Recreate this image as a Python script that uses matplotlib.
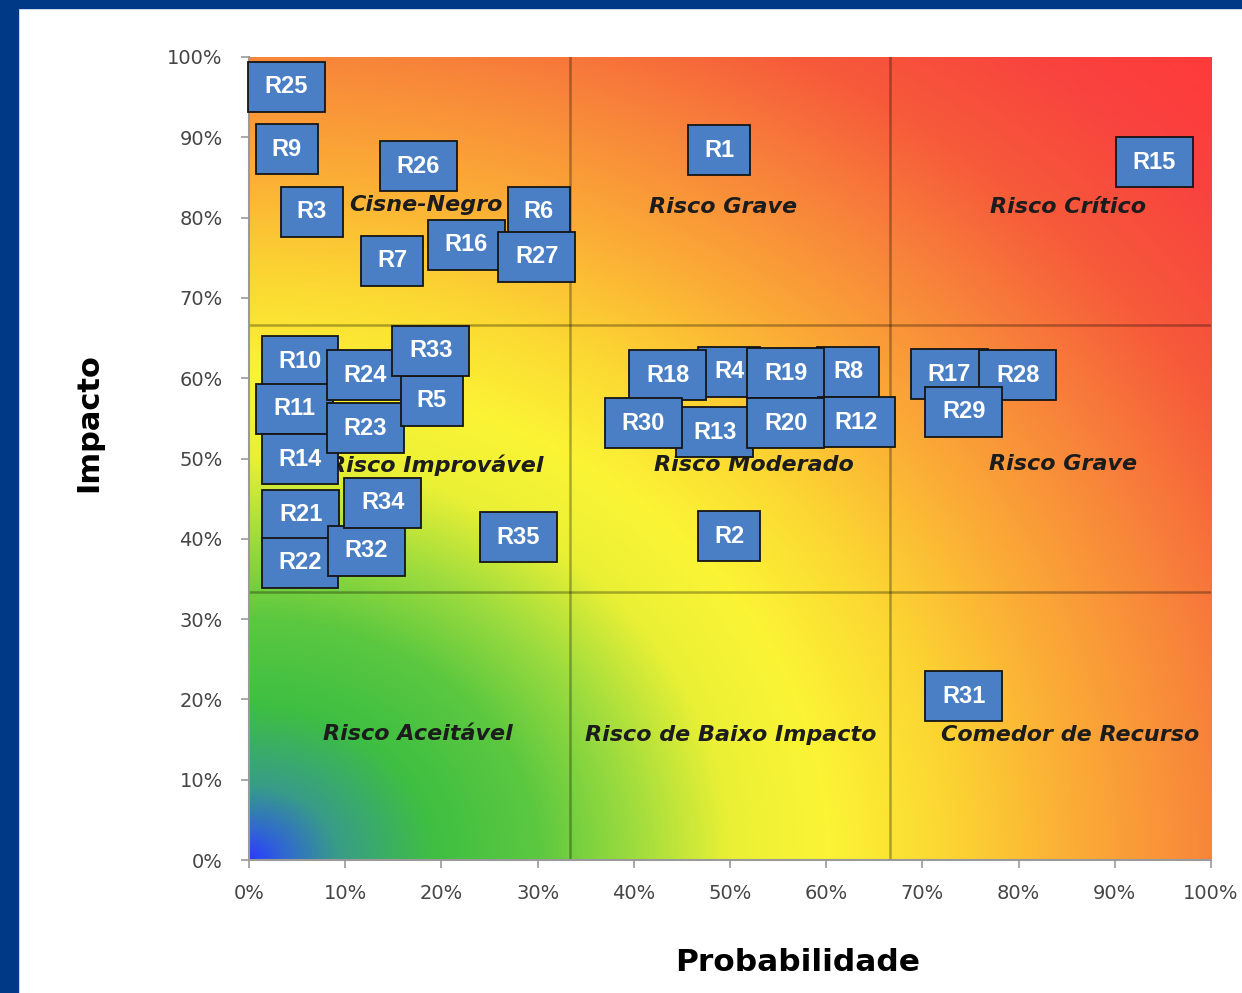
import numpy as np
import matplotlib
matplotlib.use("Agg")
import matplotlib.pyplot as plt
from matplotlib.colors import LinearSegmentedColormap
from matplotlib.patches import Rectangle

# risks: label, probability (%), impact (%) -- listed in drawing order
risk_names = ["R25", "R9", "R3", "R26", "R6", "R7", "R16", "R27", "R1", "R15",
              "R10", "R11", "R14", "R24", "R23", "R5", "R33", "R21", "R22",
              "R32", "R34", "R35", "R4", "R18", "R8", "R19", "R13", "R30",
              "R12", "R20", "R2", "R17", "R28", "R29", "R31"]
risk_prob = [3.9, 3.9, 6.5, 17.6, 30.1, 14.9, 22.6, 29.9, 48.9, 94.1,
             5.3, 4.7, 5.3, 12.1, 12.1, 19.0, 18.9, 5.4, 5.3,
             12.2, 13.9, 28.0, 49.9, 43.5, 62.3, 55.8, 48.4, 41.0,
             63.1, 55.8, 49.9, 72.8, 79.9, 74.3, 74.3]
risk_impact = [96.3, 88.5, 80.7, 86.4, 80.7, 74.6, 76.6, 75.1, 88.4, 86.9,
               62.1, 56.2, 49.9, 60.4, 53.8, 57.2, 63.4, 43.0, 37.0,
               38.5, 44.5, 40.2, 60.8, 60.4, 60.8, 60.6, 53.3, 54.4,
               54.5, 54.4, 40.3, 60.5, 60.4, 55.8, 20.4]

# zone names and where they sit
zone_names = ["Cisne-Negro", "Risco Grave", "Risco Crítico",
              "Risco Improvável", "Risco Moderado", "Risco Grave",
              "Risco Aceitável", "Risco de Baixo Impacto", "Comedor de Recurso"]
zone_x = [18.4, 49.3, 85.1, 19.5, 52.5, 84.6, 17.5, 50.1, 85.4]
zone_y = [81.6, 81.3, 81.3, 49.2, 49.2, 49.3, 15.7, 15.6, 15.6]

ticks = list(range(0, 101, 10))
splits = [100 / 3, 200 / 3]

fig = plt.figure(figsize=(12.42, 9.93), dpi=100)
fig.patch.set_facecolor("white")

# dark blue frame on the left and top
fig.patches.append(Rectangle((0, 0), 0.0145, 1, transform=fig.transFigure,
                             color="#003a87", zorder=0))
fig.patches.append(Rectangle((0, 0.992), 1, 0.008, transform=fig.transFigure,
                             color="#003a87", zorder=0))

ax = fig.add_axes([0.2005, 0.1339, 0.7746, 0.8087])

# background gradient, radial from the origin
stops = [(0.00, "#2a3cff"), (0.035, "#3068d0"), (0.09, "#389c88"),
         (0.19, "#3ebf42"), (0.30, "#5cc840"), (0.40, "#9edc3e"),
         (0.50, "#eaf035"), (0.60, "#fbf435"), (0.72, "#fcd832"),
         (0.86, "#fbac36"), (1.00, "#f8863a"), (1.15, "#f65a3a"),
         (1.30, "#f9423f"), (1.42, "#ff3a3a")]
top = stops[-1][0]
cmap = LinearSegmentedColormap.from_list("risk", [(p / top, c) for p, c in stops], N=512)
gx, gy = np.meshgrid(np.linspace(0, 1, 500), np.linspace(0, 1, 500))
field = np.sqrt(gx ** 2 + gy ** 2)
ax.imshow(field, cmap=cmap, vmin=0, vmax=top, origin="lower",
          extent=[0, 100, 0, 100], aspect="auto", interpolation="bilinear", zorder=0)

for s in splits:
    ax.axvline(s, color="black", alpha=0.3, lw=1.8, zorder=1)
    ax.axhline(s, color="black", alpha=0.3, lw=1.8, zorder=1)

for name, zx, zy in zip(zone_names, zone_x, zone_y):
    ax.text(zx, zy, name, ha="center", va="center", fontsize=16,
            fontweight="bold", fontstyle="italic", color="#1c1c1c",
            family="DejaVu Sans", zorder=2)

box_h = 6.23
for i, (name, px, py) in enumerate(zip(risk_names, risk_prob, risk_impact)):
    w = 8.0 if len(name) > 2 else 6.45
    ax.add_patch(Rectangle((px - w / 2, py - box_h / 2), w, box_h,
                           facecolor="#4a7fc6", edgecolor="#151515", lw=1.3,
                           zorder=3 + 2 * i, clip_on=False))
    ax.text(px, py, name, ha="center", va="center", color="white",
            fontsize=17, fontweight="bold", family="Liberation Sans",
            zorder=4 + 2 * i)

ax.set_xlim(0, 100)
ax.set_ylim(0, 100)
ax.set_xticks(ticks)
ax.set_yticks(ticks)
ax.set_xticklabels([f"{t}%" for t in ticks])
ax.set_yticklabels([f"{t}%" for t in ticks])
ax.tick_params(axis="both", colors="#9a9a9a", labelcolor="#454545",
               labelsize=14, length=6, width=1.2)
ax.tick_params(axis="y", pad=13)
ax.tick_params(axis="x", pad=11)
for side in ["top", "right"]:
    ax.spines[side].set_visible(False)
for side in ["left", "bottom"]:
    ax.spines[side].set_color("#9a9a9a")
    ax.spines[side].set_linewidth(1.5)

ax.set_ylabel("Impacto", fontsize=22, fontweight="bold", va="center")
ax.set_xlabel("Probabilidade", fontsize=22.5, fontweight="bold", va="center")
ax.yaxis.set_label_coords(-0.167, 0.545)
ax.xaxis.set_label_coords(0.570, -0.127)

fig.savefig("out.png", dpi=100)
